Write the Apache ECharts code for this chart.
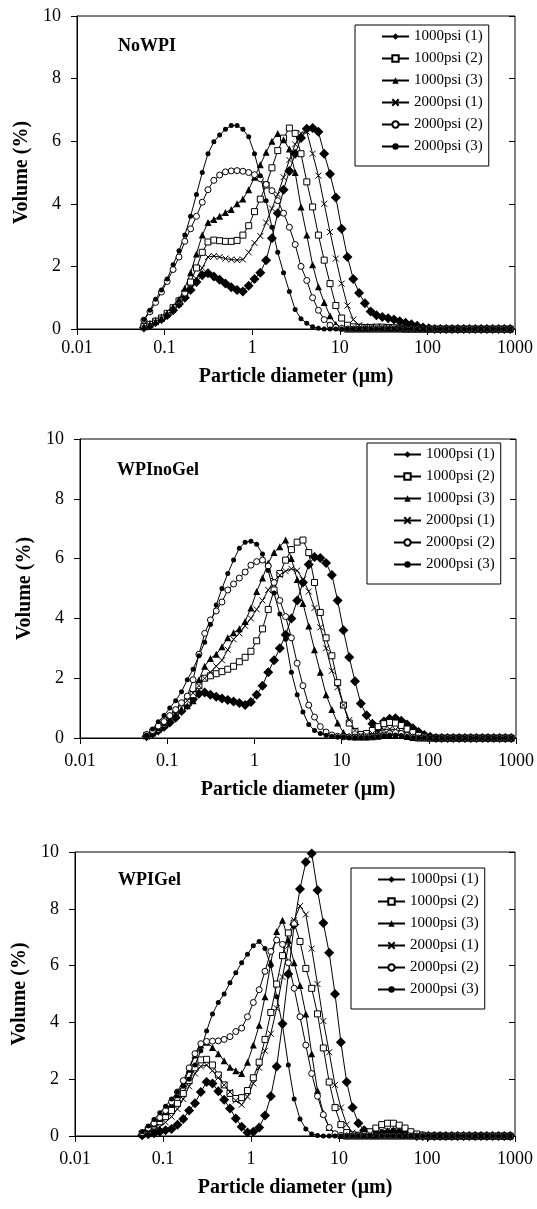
<!DOCTYPE html>
<html><head><meta charset="utf-8">
<script src="https://cdn.jsdelivr.net/npm/echarts@6/dist/echarts.min.js"></script>
<style>html,body{margin:0;padding:0;background:#fff}#c{width:537px;height:1209px}</style>
</head><body><div id="c"></div>
<script>
// Particle size classes (µm)
const diameters = [0.058,0.068,0.079,0.092,0.107,0.125,0.146,0.170,0.198,0.231,
 0.269,0.313,0.365,0.425,0.495,0.577,0.672,0.783,0.912,1.062,
 1.238,1.442,1.680,1.957,2.280,2.656,3.094,3.605,4.199,4.892,
 5.699,6.639,7.735,9.011,10.50,12.23,14.25,16.60,19.34,22.53,
 26.24,30.58,35.62,41.50,48.34,56.32,65.61,76.44,89.05,103.7,
 120.9,140.8,164.0,191.1,222.6,259.4,302.1,352.0,410.1,477.7,
 556.6,648.4,755.4,880.0];

const seriesNames = ['1000psi (1)','1000psi (2)','1000psi (3)','2000psi (1)','2000psi (2)','2000psi (3)'];
const panelLabels = ['NoWPI','WPInoGel','WPIGel'];
const xTickLabels = ['0.01','0.1','1','10','100','1000'];
const yTickValues = [0,2,4,6,8,10];
const xAxisTitle = 'Particle diameter (\u03bcm)';
const yAxisTitle = 'Volume (%)';

// ---- NoWPI ----
const noWPI_1000_1 = [0.05,0.12,0.22,0.32,0.45,0.6,0.8,1.0,1.25,1.5,
 1.72,1.78,1.68,1.57,1.45,1.33,1.25,1.2,1.38,1.6,
 1.8,2.2,2.9,3.7,4.45,5.05,5.6,6.1,6.4,6.42,
 6.3,5.6,4.95,4.2,3.2,2.3,1.6,1.15,0.82,0.56,
 0.44,0.38,0.34,0.3,0.25,0.2,0.15,0.1,0.05,0.02,
 0,0,0,0,0,0,0,0,0,0,
 0,0,0,0];
const noWPI_1000_2 = [0.08,0.15,0.25,0.35,0.5,0.68,0.9,1.15,1.5,1.95,
 2.45,2.78,2.84,2.82,2.8,2.8,2.83,3.0,3.3,3.75,
 4.15,4.6,5.15,5.7,6.1,6.42,6.25,5.6,4.7,3.9,
 3.0,2.2,1.45,0.75,0.35,0.12,0.07,0.06,0.05,0.05,
 0.06,0.06,0.05,0.04,0.02,0,0,0,0,0,
 0,0,0,0,0,0,0,0,0,0,
 0,0,0,0];
const noWPI_1000_3 = [0.08,0.15,0.25,0.35,0.5,0.7,0.95,1.3,1.8,2.4,
 3.0,3.4,3.5,3.6,3.72,3.82,4.0,4.15,4.45,4.85,
 5.25,5.65,6.0,6.25,6.05,5.75,5.0,3.9,3.0,2.05,
 1.35,0.85,0.42,0.15,0.04,0,0,0,0,0,
 0,0,0,0,0,0,0,0,0,0,
 0,0,0,0,0,0,0,0,0,0,
 0,0,0,0];
const noWPI_2000_1 = [0.05,0.12,0.22,0.32,0.45,0.6,0.8,1.02,1.3,1.6,
 1.95,2.3,2.33,2.3,2.25,2.22,2.2,2.22,2.45,2.75,
 2.97,3.4,3.85,4.3,4.85,5.4,5.9,6.25,6.3,5.6,
 4.9,4.0,3.1,2.25,1.45,0.75,0.3,0.12,0.08,0.07,
 0.07,0.07,0.06,0.04,0.02,0,0,0,0,0,
 0,0,0,0,0,0,0,0,0,0,
 0,0,0,0];
const noWPI_2000_2 = [0.28,0.55,0.85,1.18,1.52,1.9,2.3,2.8,3.2,3.6,
 4.05,4.45,4.75,4.92,5.02,5.05,5.06,5.04,5.0,4.93,
 4.8,4.62,4.42,4.1,3.7,3.25,2.7,2.0,1.55,1.0,
 0.6,0.3,0.12,0.05,0.02,0,0,0,0,0,
 0,0,0,0,0,0,0,0,0,0,
 0,0,0,0,0,0,0,0,0,0,
 0,0,0,0];
const noWPI_2000_3 = [0.3,0.6,0.95,1.25,1.6,2.05,2.5,3.0,3.6,4.3,
 5.0,5.6,5.98,6.2,6.38,6.5,6.5,6.38,6.14,5.6,
 4.9,4.1,3.25,2.45,1.8,1.2,0.62,0.33,0.18,0.07,
 0.02,0,0,0,0,0,0,0,0,0,
 0,0,0,0,0,0,0,0,0,0,
 0,0,0,0,0,0,0,0,0,0,
 0,0,0,0];

// ---- WPInoGel ----
const noGel_1000_1 = [0.06,0.15,0.25,0.38,0.52,0.68,0.9,1.1,1.3,1.48,
 1.52,1.45,1.38,1.32,1.27,1.22,1.17,1.1,1.2,1.45,
 1.75,2.2,2.6,3.0,3.45,4.0,4.6,5.2,5.8,6.05,
 6.02,5.85,5.45,4.6,3.6,2.7,1.9,1.15,0.76,0.48,
 0.33,0.55,0.64,0.66,0.58,0.45,0.33,0.2,0.1,0.04,
 0,0,0,0,0,0,0,0,0,0,
 0,0,0,0];
const noGel_1000_2 = [0.08,0.18,0.3,0.45,0.62,0.8,1.0,1.2,1.45,1.75,
 2.0,2.08,2.15,2.22,2.3,2.4,2.55,2.7,2.9,3.25,
 3.65,4.3,4.95,5.5,5.95,6.3,6.55,6.62,6.2,5.2,
 4.2,3.35,2.75,1.85,1.1,0.5,0.22,0.12,0.15,0.25,
 0.38,0.48,0.52,0.5,0.42,0.3,0.18,0.08,0.03,0,
 0,0,0,0,0,0,0,0,0,0,
 0,0,0,0];
const noGel_1000_3 = [0.08,0.2,0.35,0.5,0.65,0.82,0.95,1.08,1.25,1.95,
 2.4,2.66,2.8,3.05,3.35,3.52,3.65,3.9,4.35,4.9,
 5.35,5.85,6.2,6.4,6.62,6.0,5.3,4.5,3.75,2.95,
 2.2,1.45,0.95,0.5,0.18,0.06,0.03,0.03,0.03,0.04,
 0.06,0.08,0.1,0.1,0.08,0.05,0.02,0,0,0,
 0,0,0,0,0,0,0,0,0,0,
 0,0,0,0];
const noGel_2000_1 = [0.05,0.15,0.28,0.42,0.58,0.78,1.0,1.25,1.5,1.75,
 2.0,2.2,2.4,2.6,2.95,3.3,3.5,3.75,4.0,4.3,
 4.6,4.95,5.25,5.45,5.58,5.66,5.6,5.3,4.9,4.35,
 3.7,3.0,2.25,1.7,1.1,0.6,0.25,0.1,0.1,0.15,
 0.22,0.28,0.3,0.28,0.22,0.14,0.07,0.03,0,0,
 0,0,0,0,0,0,0,0,0,0,
 0,0,0,0];
const noGel_2000_2 = [0.12,0.25,0.4,0.55,0.75,0.95,1.18,1.4,1.95,2.8,
 3.5,3.95,4.25,4.55,4.95,5.15,5.35,5.55,5.78,5.9,
 5.95,5.75,5.2,4.6,4.06,3.35,2.5,1.75,1.1,0.7,
 0.38,0.2,0.1,0.06,0.04,0.03,0.03,0.03,0.03,0.04,
 0.06,0.1,0.15,0.18,0.15,0.08,0.03,0,0,0,
 0,0,0,0,0,0,0,0,0,0,
 0,0,0,0];
const noGel_2000_3 = [0.1,0.3,0.54,0.75,1.0,1.25,1.55,1.95,2.3,2.75,
 3.2,3.8,4.45,5.0,5.5,5.95,6.35,6.55,6.58,6.48,
 6.15,5.6,4.85,4.15,3.3,2.2,1.45,0.87,0.45,0.25,
 0.15,0.09,0.06,0.04,0.03,0.02,0.02,0.02,0.02,0.03,
 0.05,0.08,0.1,0.1,0.08,0.05,0.02,0,0,0,
 0,0,0,0,0,0,0,0,0,0,
 0,0,0,0];

// ---- WPIGel ----
const gel_1000_1 = [0.03,0.06,0.1,0.15,0.2,0.25,0.4,0.6,0.9,1.15,
 1.55,1.9,1.85,1.58,1.28,0.97,0.62,0.33,0.12,0.15,
 0.3,0.72,1.4,2.45,3.95,5.7,7.45,8.7,9.65,9.95,
 8.65,7.5,6.45,5.0,3.3,1.9,1.0,0.45,0.2,0.08,
 0.05,0.08,0.12,0.15,0.12,0.08,0.04,0,0,0,
 0,0,0,0,0,0,0,0,0,0,
 0,0,0,0];
const gel_1000_2 = [0.08,0.2,0.35,0.5,0.68,0.9,1.15,1.5,1.95,2.4,
 2.68,2.7,2.5,2.15,1.8,1.5,1.32,1.35,1.6,2.05,
 2.6,3.4,4.35,5.35,6.35,7.15,7.5,6.85,5.9,5.2,
 4.3,3.1,1.9,1.0,0.4,0.12,0.04,0.03,0.05,0.15,
 0.28,0.4,0.45,0.45,0.38,0.28,0.15,0.07,0.03,0,
 0,0,0,0,0,0,0,0,0,0,
 0,0,0,0];
const gel_1000_3 = [0.1,0.25,0.42,0.62,0.85,1.12,1.45,1.85,2.35,2.85,
 3.2,3.3,3.12,2.9,2.65,2.42,2.3,2.2,2.6,3.2,
 3.9,4.9,6.1,7.2,7.6,6.9,6.1,5.3,4.3,2.9,
 1.6,0.8,0.3,0.08,0.02,0,0,0,0,0,
 0,0,0,0,0,0,0,0,0,0,
 0,0,0,0,0,0,0,0,0,0,
 0,0,0,0];
const gel_2000_1 = [0.03,0.1,0.2,0.32,0.48,0.68,0.95,1.3,1.75,2.2,
 2.45,2.5,2.3,2.05,1.8,1.55,1.25,1.1,1.38,1.85,
 2.4,3.0,3.6,4.5,5.6,6.7,7.6,8.1,7.8,6.6,
 5.35,4.05,2.95,1.8,1.0,0.4,0.12,0.05,0.05,0.08,
 0.12,0.18,0.2,0.2,0.16,0.1,0.05,0.02,0,0,
 0,0,0,0,0,0,0,0,0,0,
 0,0,0,0];
const gel_2000_2 = [0.12,0.28,0.45,0.65,0.9,1.2,1.55,1.95,2.4,2.9,
 3.25,3.33,3.34,3.35,3.4,3.5,3.68,3.8,4.2,4.7,
 5.15,5.8,6.5,6.9,6.75,6.1,5.2,4.2,3.2,2.2,
 1.4,0.75,0.3,0.08,0.02,0,0,0,0,0,
 0,0,0,0,0,0,0,0,0,0,
 0,0,0,0,0,0,0,0,0,0,
 0,0,0,0];
const gel_2000_3 = [0.15,0.35,0.58,0.82,1.05,1.3,1.55,1.75,2.0,2.5,
 3.0,3.7,4.3,4.7,5.0,5.4,5.75,6.1,6.4,6.7,
 6.85,6.6,6.0,4.9,3.9,2.5,1.3,0.6,0.25,0.07,
 0.02,0,0,0,0,0,0,0,0,0,
 0,0,0,0,0,0,0,0,0,0,
 0,0,0,0,0,0,0,0,0,0,
 0,0,0,0];

const panelData = [
  [noWPI_1000_1, noWPI_1000_2, noWPI_1000_3, noWPI_2000_1, noWPI_2000_2, noWPI_2000_3],
  [noGel_1000_1, noGel_1000_2, noGel_1000_3, noGel_2000_1, noGel_2000_2, noGel_2000_3],
  [gel_1000_1, gel_1000_2, gel_1000_3, gel_2000_1, gel_2000_2, gel_2000_3]
];
panelData.forEach((p, k) => p.forEach((a, s) => {
  if (a.length !== diameters.length) throw new Error('length mismatch panel ' + k + ' series ' + s + ': ' + a.length);
}));

// ---- layout & style ----
const SERIF = '"Liberation Serif", "Times New Roman", serif';
const layouts = [
  { grid: {left: 77, top: 16, width: 438, height: 313}, legend: {left: 355, top: 25}, label: {left: 118, top: 37}, xGap: 38, lMargin: 10 },
  { grid: {left: 80, top: 439, width: 436, height: 299}, legend: {left: 367, top: 443}, label: {left: 117, top: 461}, xGap: 42, lMargin: 14 },
  { grid: {left: 75, top: 852, width: 440, height: 284}, legend: {left: 351, top: 868}, label: {left: 118, top: 871}, xGap: 42, lMargin: 14 }
];
const markerStyles = [
  { symbol: 'diamond', symbolSize: 10, itemStyle: {color: '#000', borderWidth: 0} },
  { symbol: 'rect', symbolSize: 6, itemStyle: {color: '#fff', borderColor: '#000', borderWidth: 1} },
  { symbol: 'triangle', symbolSize: 7, itemStyle: {color: '#000', borderWidth: 0} },
  { symbol: 'path://M0,0L10,10M10,0L0,10', symbolSize: 6, itemStyle: {color: '#000', borderColor: '#000', borderWidth: 1} },
  { symbol: 'circle', symbolSize: 6, itemStyle: {color: '#fff', borderColor: '#000', borderWidth: 1} },
  { symbol: 'circle', symbolSize: 5, itemStyle: {color: '#000', borderWidth: 0} }
];
const fmtX = v => xTickLabels[Math.round(Math.log10(v)) + 2] ?? '';

const grid = [], xAxis = [], yAxis = [], series = [], legend = [], graphic = [];
layouts.forEach((L, k) => {
  grid.push(Object.assign({show: true, borderColor: '#000', borderWidth: 1, backgroundColor: 'transparent'}, L.grid));
  const xBase = {gridIndex: k, type: 'log', logBase: 10, min: 0.01, max: 1000, splitLine: {show: false}, minorTick: {show: false}};
  xAxis.push(Object.assign({}, xBase, {
    axisLine: {show: true, lineStyle: {color: '#000', width: 1}},
    axisTick: {show: true, length: 6, lineStyle: {color: '#000', width: 1}},
    axisLabel: {color: '#000', fontFamily: SERIF, fontSize: 18, margin: L.lMargin, formatter: fmtX},
    name: xAxisTitle, nameLocation: 'middle', nameGap: L.xGap,
    nameTextStyle: {color: '#000', fontFamily: SERIF, fontSize: 20, fontWeight: 'bold'}
  }));
  xAxis.push(Object.assign({}, xBase, {
    axisLine: {show: false}, axisLabel: {show: false},
    axisTick: {show: true, inside: true, length: 6, lineStyle: {color: '#000', width: 1}}
  }));
  const yBase = {gridIndex: k, type: 'value', min: yTickValues[0], max: yTickValues[yTickValues.length - 1], interval: yTickValues[1] - yTickValues[0], splitLine: {show: false}};
  yAxis.push(Object.assign({}, yBase, {
    axisLine: {show: true, lineStyle: {color: '#000', width: 1}},
    axisTick: {show: true, length: 6, lineStyle: {color: '#000', width: 1}},
    axisLabel: {color: '#000', fontFamily: SERIF, fontSize: 18, margin: 16},
    name: yAxisTitle, nameLocation: 'middle', nameGap: 43,
    nameTextStyle: {color: '#000', fontFamily: SERIF, fontSize: 20, fontWeight: 'bold'}
  }));
  yAxis.push(Object.assign({}, yBase, {
    axisLine: {show: false}, axisLabel: {show: false},
    axisTick: {show: true, inside: true, length: 6, lineStyle: {color: '#000', width: 1}}
  }));
  panelData[k].forEach((vals, s) => {
    series.push(Object.assign({
      type: 'line', name: seriesNames[s],
      xAxisIndex: 2 * k, yAxisIndex: 2 * k,
      data: diameters.map((d, i) => [d, vals[i]]),
      lineStyle: {color: '#000', width: 1},
      showSymbol: true, silent: true, animation: false,
      emphasis: {disabled: true}
    }, markerStyles[s]));
  });
  legend.push({
    data: seriesNames, orient: 'vertical', left: L.legend.left, top: L.legend.top,
    itemWidth: 27, itemHeight: 8, itemGap: 7, padding: [4, 6, 12, 26],
    borderColor: '#000', borderWidth: 1, backgroundColor: '#fff',
    selectedMode: false,
    textStyle: {fontFamily: SERIF, fontSize: 15, color: '#000', lineHeight: 15}
  });
  graphic.push({
    type: 'text', left: L.label.left, top: L.label.top, silent: true,
    style: {text: panelLabels[k], fill: '#000', font: 'bold 18px ' + SERIF}
  });
});

const chart = echarts.init(document.getElementById('c'), null, {renderer: 'canvas', width: 537, height: 1209});
chart.setOption({
  backgroundColor: '#fff',
  animation: false,
  grid, xAxis, yAxis, series, legend, graphic
});
</script>
</body></html>
